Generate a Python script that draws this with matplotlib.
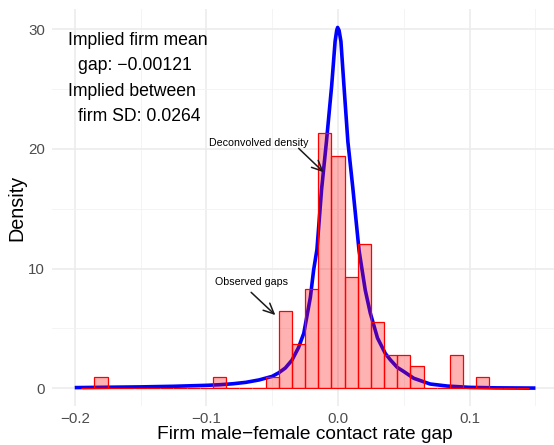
import numpy as np
import matplotlib
matplotlib.use("Agg")
import matplotlib.pyplot as plt

plt.rcParams['font.family'] = ['Liberation Sans', 'DejaVu Sans']

# Histogram of observed firm gaps (counts per 0.01-wide bin)
bin_width = 0.01
bin_centers = np.round(np.arange(-0.19, 0.145, bin_width), 2)
bin_counts = [0, 1, 0, 0, 0, 0, 0, 0, 0, 0,
              1, 0, 0, 0, 1, 7, 4, 9, 23, 21,
              10, 13, 6, 3, 3, 2, 0, 0, 3, 0,
              1, 0, 0, 0]

# Deconvolved density curve
curve_x = [-0.200, -0.175, -0.150, -0.125, -0.100, -0.090, -0.080, -0.070,
           -0.060, -0.050, -0.045, -0.040, -0.035, -0.030, -0.026, -0.021,
           -0.0185, -0.016, -0.0125, -0.0088, -0.0048, -0.0022, -0.0010,
           -0.0003, 0.0008, 0.0022, 0.0045, 0.0075, 0.0112, 0.0160, 0.0207,
           0.0245, 0.030, 0.036, 0.040, 0.045, 0.050, 0.0575, 0.070, 0.083,
           0.100, 0.120, 0.150]
curve_y = [0.06, 0.09, 0.12, 0.17, 0.25, 0.30, 0.38, 0.50,
           0.70, 1.00, 1.30, 1.70, 2.35, 3.40, 4.60, 7.60,
           9.9, 11.6, 16.6, 20.6, 25.3, 29.0, 29.9,
           30.15, 29.9, 29.0, 25.3, 20.6, 16.8, 11.5, 8.2,
           6.3, 4.2, 2.9, 2.35, 1.75, 1.40, 0.84, 0.36, 0.19,
           0.08, 0.04, 0.02]

mean_gap = "\u22120.00121"
between_sd = "0.0264"

counts = np.array(bin_counts, dtype=float)
density = counts / (counts.sum() * bin_width)

W, H = 554, 445
fig = plt.figure(figsize=(W / 100, H / 100), dpi=100)
left_px, right_px, top_px, bottom_px = 51.7, 558.5, 8.9, 406.4
ax = fig.add_axes([left_px / W, 1 - bottom_px / H,
                   (right_px - left_px) / W, (bottom_px - top_px) / H])

ax.set_xlim(-0.2175, 0.1675)
ax.set_ylim(-1.51, 31.7)

# grid in a minimal style
ax.set_xticks([-0.2, -0.1, 0.0, 0.1])
ax.set_xticks([-0.15, -0.05, 0.05, 0.15], minor=True)
ax.set_yticks([0, 10, 20, 30])
ax.set_yticks([5, 15, 25], minor=True)
ax.grid(which='major', color='#EBEBEB', linewidth=1.1)
ax.grid(which='minor', color='#F2F2F2', linewidth=0.6)
ax.set_axisbelow(True)
for s in ax.spines.values():
    s.set_visible(False)
ax.tick_params(which='both', length=0)
ax.tick_params(axis='x', pad=4, labelsize=10.9, labelcolor='#4D4D4D')
ax.tick_params(axis='y', pad=5, labelsize=10.9, labelcolor='#4D4D4D')
ax.set_xticklabels(['\u22120.2', '\u22120.1', '0.0', '0.1'])

ax.plot(curve_x, curve_y, color='#0000FF', linewidth=2.6, zorder=2,
        solid_capstyle='butt', solid_joinstyle='round')
ax.bar(bin_centers, density, width=bin_width, facecolor=(1, 0, 0, 0.3),
       edgecolor='#FF0000', linewidth=0.9, zorder=3)

ax.set_xlabel('Firm male\u2212female contact rate gap', fontsize=13.8,
              labelpad=0)
ax.set_ylabel('Density', fontsize=14.2, labelpad=1)

# summary text
summary = [("Implied firm mean", -0.2054, 29.1),
           ("gap: " + mean_gap, -0.1978, 26.93),
           ("Implied between", -0.2054, 24.84),
           ("firm SD: " + between_sd, -0.1978, 22.75)]
for txt, tx, ty in summary:
    ax.text(tx, ty, txt, fontsize=12.7, ha='left', va='center', color='black',
            zorder=5)

arrow = dict(arrowstyle='->,head_length=0.75,head_width=0.35',
             color='#1A1A1A', lw=1.1, shrinkA=0, shrinkB=0)
ax.annotate('', xy=(-0.0109, 18.05), xytext=(-0.0299, 20.05),
            arrowprops=arrow, zorder=5)
ax.text(-0.0605, 20.5, 'Deconvolved density', fontsize=7.7,
        ha='center', va='center', zorder=5)
ax.annotate('', xy=(-0.0476, 6.12), xytext=(-0.066, 8.02),
            arrowprops=arrow, zorder=5)
ax.text(-0.066, 8.9, 'Observed gaps', fontsize=7.7,
        ha='center', va='center', zorder=5)

fig.savefig('out.png', dpi=100)
